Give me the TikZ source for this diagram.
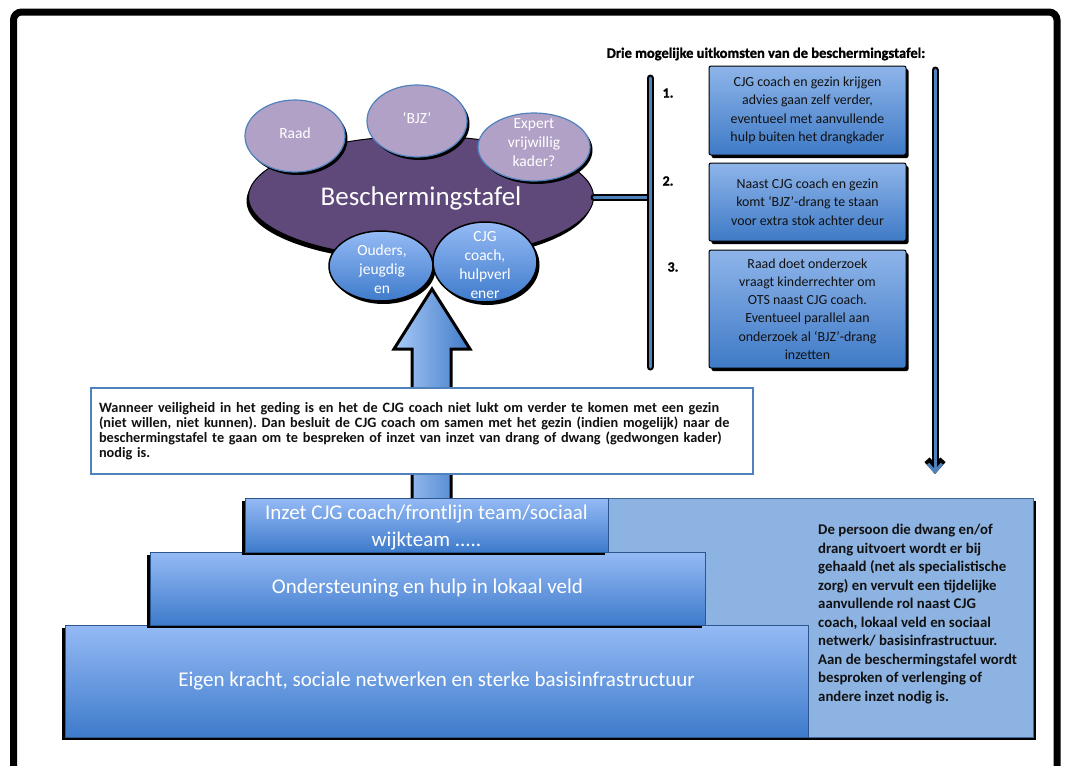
\documentclass[tikz,border=0pt]{standalone}
\usepackage{fontspec}
\setmainfont{Carlito}
\newfontfamily\heavyfont{Carlito}[BoldFeatures={FakeBold=1.2}]
\usetikzlibrary{shapes.geometric,shadows,arrows.meta}
\definecolor{purpdark}{HTML}{5F497A}
\definecolor{purplight}{HTML}{B2A1C7}
\definecolor{lineblue}{HTML}{4F81BD}
\definecolor{tiertop}{HTML}{95BAF5}
\definecolor{tierbot}{HTML}{3E7BCB}
\definecolor{panelblue}{HTML}{8DB3E2}
\definecolor{outtop}{HTML}{8EB5EA}
\definecolor{outbot}{HTML}{3F7AC6}
\definecolor{arrlight}{HTML}{A9C9F7}
\definecolor{arrdark}{HTML}{3F7BC8}
\definecolor{txtdark}{HTML}{111111}
\frenchspacing
\begin{document}
\begin{tikzpicture}[x=1pt,y=-1pt,
  shadowBR/.style={drop shadow={shadow xshift=2.5pt,shadow yshift=-3pt,fill=black,opacity=1}},
  shadowBL/.style={drop shadow={shadow xshift=-3pt,shadow yshift=-3pt,fill=black,opacity=1}},
  smallell/.style={ellipse,draw=lineblue,line width=1.2pt,fill=purplight,inner sep=0pt,shadowBR},
  blueell/.style={ellipse,draw=black,line width=1.5pt,top color=tiertop,bottom color=tierbot,inner sep=0pt,shadowBR},
  elltext/.style={align=center,text=white,font=\fontsize{15.5}{19}\selectfont},
  bluebar/.style={draw=lineblue,line width=3pt,line cap=round,preaction={draw=black,line width=7pt,line cap=round}},
  outbox/.style={draw=black,line width=1pt,rounded corners=2pt,top color=outtop,bottom color=outbot,text=txtdark,align=center,inner sep=0pt,minimum width=197pt,font=\fontsize{13.9}{18.3}\selectfont,shadowBR},
  numlbl/.style={font=\heavyfont\bfseries\fontsize{14}{16}\selectfont,text=black},
  tier/.style={draw=tierbot!70!black,line width=0.6pt,top color=tiertop,bottom color=tierbot,text=white,align=center,inner sep=0pt,font=\fontsize{21}{27}\selectfont,shadowBL},
]
\useasboundingbox (0,0) rectangle (1066,766);
\clip (0,0) rectangle (1066,766);
\fill[white] (0,0) rectangle (1066,766);
% frame
\draw[line width=7pt,rounded corners=8pt] (13.5,12) rectangle (1057,820);

% Beschermingstafel cluster
\node[ellipse,fill=purpdark,draw=black,line width=1pt,minimum width=345pt,minimum height=122pt,inner sep=0pt,
  drop shadow={shadow xshift=-2pt,shadow yshift=-4pt,fill=black,opacity=1}] (tafel) at (421,197) {};
\node[text=white,font=\fontsize{27}{32}\selectfont] (tafeltxt) at (421,198) {Beschermingstafel};
\node[smallell,minimum width=100pt,minimum height=72pt] (raad) at (295,136) {};
\node[elltext] at (295,133) {Raad};
\node[smallell,minimum width=100pt,minimum height=72pt] (bjz) at (417,121) {};
\node[elltext] at (417,118) {‘BJZ’};
\node[smallell,minimum width=112pt,minimum height=68pt] (expert) at (534,147) {};
\node[elltext] at (534,143) {Expert\\vrijwillig\\kader?};
\node[blueell,minimum width=104pt,minimum height=70pt] (ouders) at (381,266) {};
\node[elltext] at (382,269) {Ouders,\\jeugdig\\en};
\node[blueell,minimum width=104pt,minimum height=80pt] (cjg) at (485,262) {};
\node[elltext] at (485,265) {CJG\\coach,\\hulpverl\\ener};

% outcomes
\node[font=\heavyfont\bfseries\fontsize{14.5}{16}\selectfont] (title) at (766,54) {Drie mogelijke uitkomsten van de beschermingstafel:};
\coordinate (bartop) at (650,78);
\coordinate (barbot) at (650,367);
\draw[bluebar] (tafel.east) -- (tafel.east -| bartop);
\draw[bluebar] (bartop) -- (barbot);
\node[numlbl] (n1) at (668,93) {1.};
\node[numlbl] (n2) at (668,181) {2.};
\node[numlbl] (n3) at (673,267) {3.};
\node[outbox,minimum height=89pt] (o1) at (807.5,110.5) {CJG coach en gezin krijgen\\advies gaan zelf verder,\\eventueel met aanvullende\\hulp buiten het drangkader};
\node[outbox,minimum height=78pt] (o2) at (807.5,202) {Naast CJG coach en gezin\\komt ‘BJZ’-drang te staan\\voor extra stok achter deur};
\node[outbox,minimum height=118pt] (o3) at (807.5,309) {Raad doet onderzoek\\vraagt kinderrechter om\\OTS naast CJG coach.\\Eventueel parallel aan\\onderzoek al ‘BJZ’-drang\\inzetten};
\coordinate (dtop) at (935,70);
\coordinate (dbot) at (935,474);
\draw[draw=lineblue,line width=3pt,line cap=round,
  preaction={draw=black,line width=7pt,line cap=round,-{Straight Barb[length=9pt,width=16pt]}},
  -{Straight Barb[length=8pt,width=14pt]}] (dtop) -- (dbot);

% up arrow
\draw[line width=3pt,line join=miter,left color=arrlight,right color=arrdark]
  (412,505) -- (412,349) -- (394,349) -- (432,289) -- (470,349) -- (451,349) -- (451,505) -- cycle;

% info box
\node[draw=lineblue,line width=2.5pt,fill=white,text width=646pt,align=left,inner xsep=8pt,
  minimum height=86pt,font=\bfseries\fontsize{14.3}{15}\selectfont,text=txtdark] (info) at (422,431)
{Wanneer veiligheid in het geding is en het de CJG coach niet lukt om verder te komen met een gezin\\
(niet willen, niet kunnen). Dan besluit de CJG coach om samen met het gezin (indien mogelijk) naar de\\
beschermingstafel te gaan om te bespreken of inzet van inzet van drang of dwang (gedwongen kader)\\
nodig is.};

% pyramid
\node[draw=lineblue!80!black,line width=0.8pt,fill=panelblue,minimum width=433pt,minimum height=239pt,inner sep=0pt,shadowBR] (panel) at (816.5,617.5) {};
\node[tier,minimum width=743pt,minimum height=112pt] (t3) at (436.5,681) {Eigen kracht, sociale netwerken en sterke basisinfrastructuur};
\node[tier,minimum width=555pt,minimum height=73pt] (t2) at (427.5,588.5) {Ondersteuning en hulp in lokaal veld};
\node[tier,minimum width=363pt,minimum height=54pt] (t1) at (426.5,525) {};
\node[text=white,align=center,font=\fontsize{21}{27}\selectfont] (t1txt) at (426.5,528) {Inzet CJG coach/frontlijn team/sociaal\\wijkteam .....};
\node[anchor=north west,align=left,inner sep=5pt,text=txtdark,font=\bfseries\fontsize{14.8}{18.5}\selectfont] (ptext) at (813,519)
{De persoon die dwang en/of\\
drang uitvoert wordt er bij\\
gehaald (net als specialistische\\
zorg) en vervult een tijdelijke\\
aanvullende rol naast CJG\\
coach, lokaal veld en sociaal\\
netwerk/ basisinfrastructuur.\\
Aan de beschermingstafel wordt\\
besproken of verlenging of\\
andere inzet nodig is.};
\end{tikzpicture}
\end{document}
